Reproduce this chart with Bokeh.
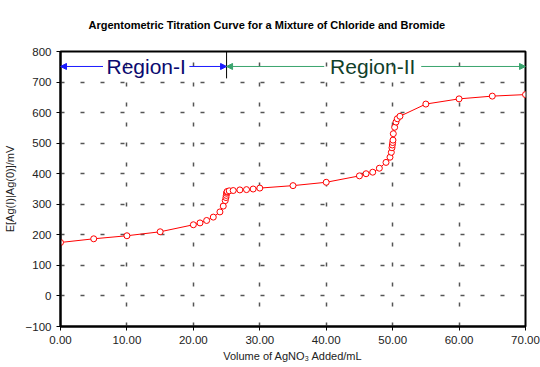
from bokeh.plotting import figure
from bokeh.models import Range1d, FixedTicker, PrintfTickFormatter, Arrow, NormalHead, Label, Title
from bokeh.embed import file_html
from bokeh.resources import INLINE

# ---- data ----
volume = [0, 5, 10, 15, 20, 21, 22, 23, 24, 24.5, 24.8, 24.9, 24.95, 25.0, 25.05, 25.1,
          25.4, 26, 27, 28, 29, 30, 35, 40, 45, 46, 47, 48, 49, 49.6, 49.8, 49.9, 49.95,
          50.0, 50.05, 50.1, 50.3, 50.5, 50.7, 51.1, 55, 60, 65, 70]
potential = [175, 187, 197, 210, 233, 239, 247, 258, 275, 294, 312, 322, 329, 336, 340, 342,
             344, 345, 347, 348, 350, 353, 361, 372, 393, 400, 405, 418, 437, 454, 470, 485, 494,
             502, 510, 531, 552, 569, 580, 588, 628, 645, 654, 659]
x_ticks = [0, 10, 20, 30, 40, 50, 60, 70]
y_ticks = [-100, 0, 100, 200, 300, 400, 500, 600, 700, 800]
region_names = ["Region-I", "Region-II"]
region_bounds = [(0, 25), (25, 70)]
region_label_x = [12.9, 47.0]
region_half_gap = [6.5, 7.3]
region_arrow_colors = ["#1a1aff", "#3aa46e"]
region_text_colors = ["#0a0a70", "#10402a"]
arrow_y = 751
divider_y = (712, 800)

FONT = "Liberation Sans"

p = figure(frame_width=465, frame_height=275, output_backend="svg", toolbar_location=None,
           x_range=Range1d(0, 70), y_range=Range1d(-100, 800),
           min_border_left=51, min_border_right=16, min_border_top=50, min_border_bottom=38)

t = Title(text="Argentometric Titration Curve for a Mixture of Chloride and Bromide",
          align="left", offset=28, text_font=FONT, text_font_size="11px",
          text_font_style="bold", text_color="#000000", vertical_align="top", standoff=37)
p.title = t

p.outline_line_color = "black"
p.outline_line_width = 2
p.background_fill_color = "white"
p.border_fill_color = "white"

for ax in (p.xaxis, p.yaxis):
    ax.axis_line_color = "black"
    ax.axis_line_width = 2
    ax.major_tick_line_color = "black"
    ax.major_tick_in = 0
    ax.major_tick_out = 4
    ax.minor_tick_line_color = None
    ax.major_label_text_font = FONT
    ax.major_label_text_font_size = "11.5px"
    ax.major_label_text_color = "#222222"
    ax.axis_label_text_font = FONT
    ax.axis_label_text_font_size = "11px"
    ax.axis_label_text_font_style = "normal"
    ax.axis_label_text_color = "#222222"
    ax.major_label_standoff = 5

p.xaxis.ticker = FixedTicker(ticks=x_ticks)
p.yaxis.ticker = FixedTicker(ticks=y_ticks)
p.xaxis.formatter = PrintfTickFormatter(format="%.2f")
p.xaxis.axis_label = "Volume of AgNO\u2083 Added/mL"
p.yaxis.axis_label = "E[Ag(I)|Ag(0)]/mV"
p.xaxis.axis_label_standoff = 3
p.yaxis.axis_label_standoff = 7

for g in (p.xgrid, p.ygrid):
    g.grid_line_color = "#555555"
    g.grid_line_width = 1.5
    g.grid_line_dash = "4 16"

# curve
p.line(volume, potential, line_color="#ff0000", line_width=1)
p.scatter(volume, potential, size=6, marker="circle", line_color="#ff0000",
          fill_color="white", line_width=1)

# region annotations
for name, (a, b), lx, hg, ac, tc in zip(region_names, region_bounds, region_label_x,
                                         region_half_gap, region_arrow_colors, region_text_colors):
    p.add_layout(Arrow(end=NormalHead(size=6, fill_color=ac, line_color=ac),
                       x_start=lx - hg, y_start=arrow_y, x_end=a, y_end=arrow_y,
                       line_color=ac, line_width=1))
    p.add_layout(Arrow(end=NormalHead(size=6, fill_color=ac, line_color=ac),
                       x_start=lx + hg, y_start=arrow_y, x_end=b, y_end=arrow_y,
                       line_color=ac, line_width=1))
    p.add_layout(Label(x=lx, y=arrow_y, text=name, text_align="center",
                       text_baseline="middle", text_color=tc,
                       text_font=FONT, text_font_size="21px"))

p.segment(x0=[region_bounds[0][1]], y0=[divider_y[0]], x1=[region_bounds[0][1]], y1=[divider_y[1]],
          line_color="black", line_width=1)

open("out.html", "w").write(file_html(p, INLINE))
